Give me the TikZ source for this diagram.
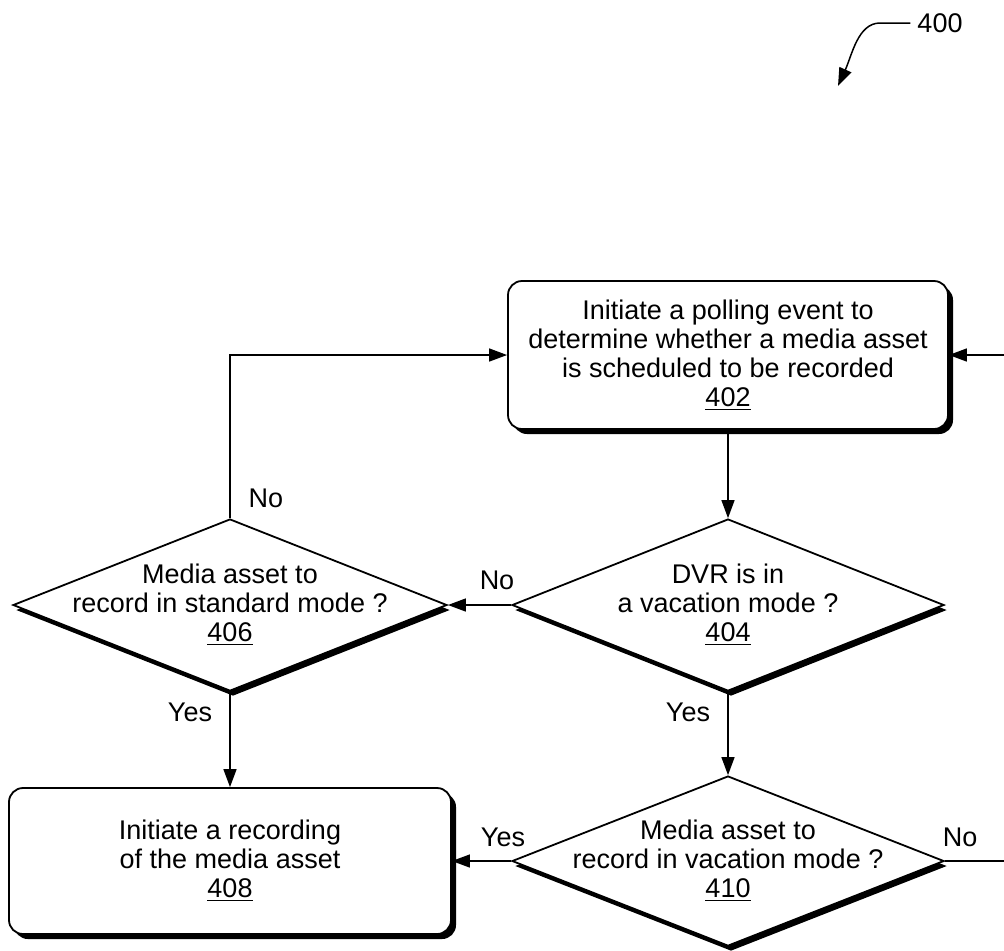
\documentclass[tikz,border=0pt]{standalone}
\usepackage{fontspec}
\setmainfont{Liberation Sans}
\usetikzlibrary{shapes.geometric, shadows, arrows.meta}

\begin{document}
\begin{tikzpicture}[x=0.5pt, y=-0.5pt,
    every node/.style={font=\fontsize{13.5}{14.5}\selectfont},
    blocco/.style={draw, line width=0.9pt, rounded corners=7pt, align=center, fill=white,
        drop shadow={shadow xshift=2.5pt, shadow yshift=-2.5pt, fill=black, opacity=1}},
    scelta/.style={draw, diamond, line width=0.9pt, inner sep=0pt, fill=white,
        drop shadow={shadow xshift=1.5pt, shadow yshift=-2.5pt, fill=black, opacity=1}},
    freccia/.style={-{Triangle[length=9pt, width=6.5pt]}, line width=0.75pt}]
              \useasboundingbox (0,0) rectangle (1004,950);
              \clip (0,0) rectangle (1004,950);

              % Blocchi
              \node[blocco, minimum width=220pt, minimum height=74pt] (b402) at (728, 355)
                  {Initiate a polling event to\\determine whether a media asset\\is scheduled to be recorded\\\underline{402}};
              \node[scelta, minimum width=216pt, minimum height=86pt,
                  label={[align=center]center:{DVR is in\\a vacation mode ?\\\underline{404}}}] (d404) at (728, 605) {};
              \node[scelta, minimum width=217pt, minimum height=86pt,
                  label={[align=center]center:{Media asset to\\record in standard mode ?\\\underline{406}}}] (d406) at (230, 605) {};
              \node[blocco, minimum width=221pt, minimum height=73pt] (b408) at (230, 861)
                  {Initiate a recording\\of the media asset\\\underline{408}};
              \node[scelta, minimum width=216pt, minimum height=85pt,
                  label={[align=center]center:{Media asset to\\record in vacation mode ?\\\underline{410}}}] (d410) at (728, 861) {};

              % Etichette
              \node (n400) at (940, 23) {400};
              \coordinate (p400) at (838, 86);
              \node (no406) at (266, 498) {No};
              \node (no404) at (497, 580) {No};
              \node (si406) at (190, 712) {Yes};
              \node (si404) at (688, 712) {Yes};
              \node (si410) at (503, 837) {Yes};
              \node (no410) at (960, 837) {No};

              % Frecce
              \draw[freccia] (n400.west) -- (880, 23) .. controls (858, 23) and (852, 55) .. (p400);
              \draw[freccia] (b402) -- (d404);
              \draw[freccia] (d404.west) -- (d406.east);
              \draw[freccia] (d406.north) |- (b402.west);
              \draw[freccia] (d406.south) -- (b408.north);
              \draw[freccia] (d404.south) -- (d410.north);
              \draw[freccia] (d410.west) -- (b408.east);
              \draw[freccia] (d410.east) -- ++(90, 0) |- (b402.east);
        \end{tikzpicture}
\end{document}
